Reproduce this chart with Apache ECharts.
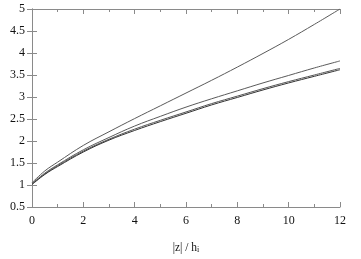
<!DOCTYPE html>
<html>
<head>
<meta charset="utf-8">
<script src="https://cdn.jsdelivr.net/npm/echarts@6/dist/echarts.min.js"></script>
<style>
  html, body { margin: 0; padding: 0; background: #fff; }
  #main { width: 361px; height: 259px; }
</style>
</head>
<body>
<div id="main"></div>
<script>
  // x positions |z|/h_i
  var xs = [0, 0.5, 1, 2, 3, 4, 5, 6, 7, 8, 9, 10, 11, 12];
  // four curves (top to bottom at x=12)
  var curveA = [1.05, 1.32, 1.52, 1.90, 2.21, 2.51, 2.80, 3.09, 3.38, 3.68, 3.99, 4.31, 4.65, 5.00];
  var curveB = [1.03, 1.27, 1.46, 1.80, 2.08, 2.34, 2.56, 2.77, 2.96, 3.14, 3.32, 3.49, 3.66, 3.82];
  var curveC = [1.02, 1.25, 1.44, 1.77, 2.04, 2.27, 2.47, 2.66, 2.85, 3.02, 3.19, 3.35, 3.50, 3.65];
  var curveD = [1.01, 1.24, 1.42, 1.75, 2.02, 2.24, 2.44, 2.63, 2.82, 2.99, 3.16, 3.32, 3.47, 3.62];
  var xLabelStep = 2;

  function pairs(ys) {
    var out = [];
    for (var i = 0; i < xs.length; i++) out.push([xs[i], ys[i]]);
    return out;
  }

  var font = 'Liberation Serif';
  var axisGray = '#8a8a8a';

  function line(ys, color) {
    return {
      type: 'line',
      data: pairs(ys),
      smooth: 0.4,
      showSymbol: false,
      silent: true,
      lineStyle: { color: color, width: 1 }
    };
  }

  var xBase = {
    type: 'value', min: 0, max: 12, interval: 2,
    axisLine: { lineStyle: { color: axisGray, width: 1 } },
    axisTick: { inside: true, length: 5, lineStyle: { color: axisGray } },
    minorTick: { show: true, splitNumber: 2, length: 3, lineStyle: { color: axisGray } },
    splitLine: { show: false }
  };
  var yBase = {
    type: 'value', min: 0.5, max: 5, interval: 0.5,
    axisLine: { show: true, lineStyle: { color: axisGray, width: 1 } },
    axisTick: { show: true, inside: true, length: 5, lineStyle: { color: axisGray } },
    splitLine: { show: false }
  };

  var option = {
    animation: false,
    backgroundColor: '#fff',
    grid: { left: 32, right: 21, top: 9, bottom: 52 },
    xAxis: [
      Object.assign({}, xBase, {
        position: 'bottom',
        axisLabel: { color: '#111', fontFamily: font, fontSize: 12, margin: 8,
          formatter: function (v) { return (v % xLabelStep === 0) ? String(v) : ''; } },
        name: '|z| / h{sub|i}',
        nameLocation: 'middle',
        nameGap: 34,
        nameTextStyle: { color: '#111', fontFamily: font, fontSize: 11.5,
          rich: { sub: { fontFamily: font, fontSize: 8, verticalAlign: 'bottom', padding: [5, 0, 0, 0] } } }
      }),
      Object.assign({}, xBase, { position: 'top', axisLabel: { show: false } })
    ],
    yAxis: [
      Object.assign({}, yBase, {
        position: 'left',
        axisLabel: { color: '#111', fontFamily: font, fontSize: 12, margin: 7 }
      }),
      Object.assign({}, yBase, { position: 'right', axisLabel: { show: false } })
    ],
    series: [
      line(curveA, '#5a5a5a'),
      line(curveB, '#5a5a5a'),
      line(curveC, '#555555'),
      line(curveD, '#333333')
    ]
  };

  var myChart = echarts.init(document.getElementById('main'));
  myChart.setOption(option);
</script>
</body>
</html>
